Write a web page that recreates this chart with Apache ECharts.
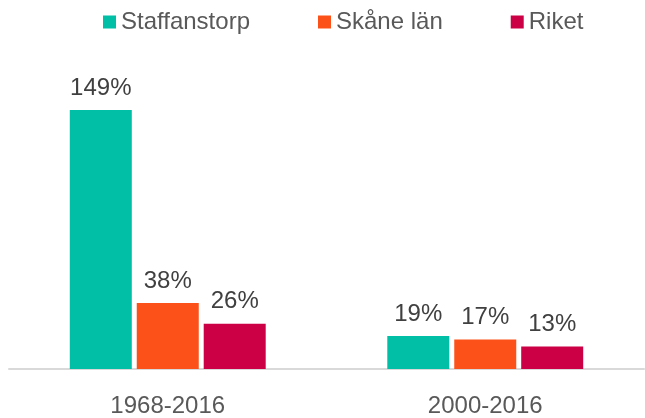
<!DOCTYPE html>
<html>
<head>
<meta charset="utf-8">
<script src="https://cdn.jsdelivr.net/npm/echarts@6/dist/echarts.min.js"></script>
<style>html,body{margin:0;padding:0;background:#fff;}#c{width:645px;height:418px;}</style>
</head>
<body>
<div id="c"></div>
<script>
const categories = ['1968-2016', '2000-2016'];
const seriesNames = ['Staffanstorp', 'Skåne län', 'Riket'];
const staffanstorp = [149, 19];
const skane = [38, 17];
const riket = [26, 13];
const colors = ['#00BFA6', '#FC5118', '#CC0044'];
const values = [staffanstorp, skane, riket];

const chart = echarts.init(document.getElementById('c'));
const font = 'Liberation Sans, Arial, sans-serif';
chart.setOption({
  animation: false,
  textStyle: { fontFamily: font },
  legend: {
    left: 98, top: 5,
    itemWidth: 13, itemHeight: 13, itemGap: 68,
    icon: 'rect',
    textStyle: { fontSize: 24, color: '#595959', fontFamily: font },
    data: seriesNames
  },
  grid: { left: 9, right: 1, top: 91, bottom: 49 },
  xAxis: {
    type: 'category',
    data: categories,
    axisLine: { lineStyle: { color: '#D9D9D9', width: 2 } },
    axisTick: { show: false },
    axisLabel: { fontSize: 24, color: '#595959', margin: 25, fontFamily: font }
  },
  yAxis: {
    type: 'value', min: 0, max: 160,
    show: false,
    splitLine: { show: false }
  },
  series: seriesNames.map((n, i) => ({
    name: n,
    type: 'bar',
    data: values[i],
    barWidth: 62,
    barGap: '8%',
    itemStyle: { color: colors[i] },
    label: {
      show: true, position: 'top', distance: 10,
      formatter: '{c}%',
      fontSize: 24, color: '#404040', fontFamily: font
    }
  }))
});
</script>
</body>
</html>
